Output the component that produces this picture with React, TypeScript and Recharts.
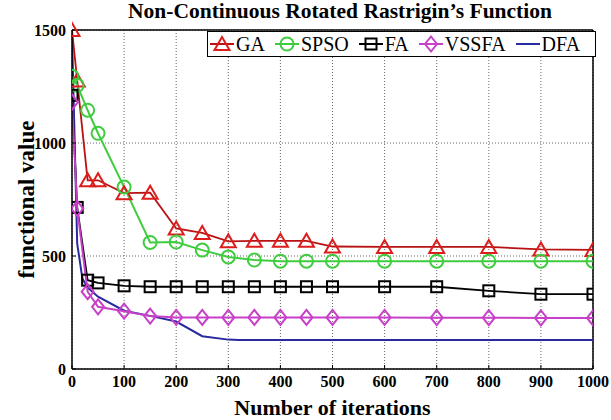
import React from "react";
import {
  LineChart,
  Line,
  XAxis,
  YAxis,
  CartesianGrid,
  ReferenceLine,
  Legend,
} from "recharts";

// iterations where the marked series were sampled
const iterations = [0, 10, 30, 50, 100, 150, 200, 250, 300, 350, 400, 450, 500, 600, 700, 800, 900, 1000];
const gaValues = [1500, 1277, 835, 835, 778, 780, 622, 602, 565, 567, 567, 567, 542, 540, 540, 540, 529, 527];
const spsoValues = [1295, 1255, 1145, 1043, 805, 560, 562, 526, 496, 482, 477, 477, 477, 477, 477, 477, 477, 477];
const faValues = [1211, 715, 393, 381, 368, 364, 364, 364, 364, 364, 364, 364, 364, 364, 364, 346, 331, 331];
const vssfaValues = [1181, 710, 342, 275, 256, 234, 228, 228, 228, 228, 228, 228, 228, 228, 227, 227, 226, 226];

// DFA has no markers and a denser curve
const dfaIterations = [0, 10, 20, 30, 50, 100, 150, 200, 250, 300, 320, 1000];
const dfaValues = [1480, 555, 400, 360, 320, 258, 235, 210, 145, 130, 128, 128];

const xTicks = [0, 100, 200, 300, 400, 500, 600, 700, 800, 900, 1000];
const yTicks = [0, 500, 1000, 1500];

const FONT = '"Liberation Serif", "Times New Roman", serif';

type Shape = "triangle" | "circle" | "square" | "diamond" | "none";

const series = [
  { key: "GA", values: gaValues, line: "#b81212", mark: "#dd1c1c", shape: "triangle" as Shape, width: 1.8 },
  { key: "SPSO", values: spsoValues, line: "#3fcc3f", mark: "#3fcc3f", shape: "circle" as Shape, width: 2 },
  { key: "FA", values: faValues, line: "#000000", mark: "#000000", shape: "square" as Shape, width: 1.8 },
  { key: "VSSFA", values: vssfaValues, line: "#c840c8", mark: "#c840c8", shape: "diamond" as Shape, width: 2 },
];

const rows = iterations.map((it, i) => {
  const row: Record<string, number> = { iter: it };
  series.forEach((s) => (row[s.key] = s.values[i]));
  return row;
});
const dfaRows = dfaIterations.map((it, i) => ({ iter: it, DFA: dfaValues[i] }));

function Marker({ cx, cy, shape, color }: { cx?: number; cy?: number; shape: Shape; color: string }) {
  if (cx == null || cy == null || shape === "none") return null;
  const common = { fill: "none", stroke: color, strokeWidth: 2 };
  if (shape === "triangle")
    return <polygon points={`${cx},${cy - 7} ${cx - 7.5},${cy + 6} ${cx + 7.5},${cy + 6}`} {...common} />;
  if (shape === "circle") return <circle cx={cx} cy={cy} r={6.5} {...common} />;
  if (shape === "square") return <rect x={cx - 5.5} y={cy - 5.5} width={11} height={11} {...common} />;
  return <polygon points={`${cx},${cy - 7.5} ${cx + 6},${cy} ${cx},${cy + 7.5} ${cx - 6},${cy}`} {...common} />;
}

const legendItems = [
  ...series.map((s) => ({ name: s.key, line: s.line, mark: s.mark, shape: s.shape })),
  { name: "DFA", line: "#2a2aa0", mark: "#2a2aa0", shape: "none" as Shape },
];

function LegendBox() {
  return (
    <div
      style={{
        border: "1.5px solid #000",
        background: "#fff",
        height: 26,
        display: "flex",
        alignItems: "center",
        paddingLeft: 2,
        fontFamily: FONT,
        fontSize: 20,
        color: "#000",
        boxSizing: "border-box",
      }}
    >
      {legendItems.map((it) => (
        <div key={it.name} style={{ display: "flex", alignItems: "center", marginRight: 10 }}>
          <svg width={24} height={20}>
            <line x1={0} y1={10} x2={24} y2={10} stroke={it.line} strokeWidth={2} />
            <Marker cx={12} cy={10} shape={it.shape} color={it.mark} />
          </svg>
          <span style={{ marginLeft: 2, lineHeight: "20px" }}>{it.name}</span>
        </div>
      ))}
    </div>
  );
}

export default function App() {
  return (
    <div style={{ position: "absolute", left: 0, top: 0, width: 611, height: 420, background: "#fff" }}>
      <div
        style={{
          position: "absolute",
          left: 0,
          width: 680,
          top: -1,
          textAlign: "center",
          fontFamily: FONT,
          fontWeight: "bold",
          fontSize: 21.5,
          lineHeight: "24px",
          color: "#000",
          zIndex: 2,
        }}
      >
        Non-Continuous Rotated Rastrigin’s Function
      </div>
      <LineChart width={611} height={420} margin={{ top: 30, right: 18, bottom: 0, left: 0 }}>
        <CartesianGrid stroke="#666" strokeDasharray="1 2" />
        <XAxis
          dataKey="iter"
          type="number"
          domain={[0, 1000]}
          ticks={xTicks}
          allowDataOverflow
          height={51}
          tickSize={-4}
          tickMargin={11}
          tickLine={{ stroke: "#000" }}
          axisLine={{ stroke: "#000", strokeWidth: 1.5 }}
          tick={{ fill: "#000", fontFamily: FONT, fontSize: 16, fontWeight: "bold" }}
          label={{
            value: "Number of iterations",
            position: "insideBottom",
            offset: 5,
            fill: "#000",
            fontFamily: FONT,
            fontSize: 22,
            fontWeight: "bold",
          }}
        />
        <YAxis
          type="number"
          domain={[0, 1500]}
          ticks={yTicks}
          width={72}
          tickSize={-4}
          tickMargin={10}
          tickLine={{ stroke: "#000" }}
          axisLine={{ stroke: "#000", strokeWidth: 1.5 }}
          tick={{ fill: "#000", fontFamily: FONT, fontSize: 16, fontWeight: "bold" }}
          label={{
            value: "functional value",
            angle: -90,
            position: "insideLeft",
            offset: 26,
            style: { textAnchor: "middle" },
            fill: "#000",
            fontFamily: FONT,
            fontSize: 23,
            fontWeight: "bold",
          }}
        />
        <ReferenceLine y={1500} stroke="#000" strokeWidth={1.5} />
        <ReferenceLine x={1000} stroke="#000" strokeWidth={1.5} />
        <Legend
          layout="horizontal"
          verticalAlign="middle"
          align="center"
          wrapperStyle={{ position: "absolute", left: 207, top: 31, width: 389 }}
          content={() => <LegendBox />}
        />
        <Line
          data={dfaRows}
          dataKey="DFA"
          stroke="#2a2aa0"
          strokeWidth={2}
          dot={false}
          activeDot={false}
          isAnimationActive={false}
        />
        {series.map((s) => (
          <Line
            key={s.key}
            data={rows}
            dataKey={s.key}
            stroke={s.line}
            strokeWidth={s.width}
            activeDot={false}
            isAnimationActive={false}
            dot={(p: any) => (
              <Marker key={`${s.key}-${p.index}`} cx={p.cx} cy={p.cy} shape={s.shape} color={s.mark} />
            )}
          />
        ))}
      </LineChart>
    </div>
  );
}
